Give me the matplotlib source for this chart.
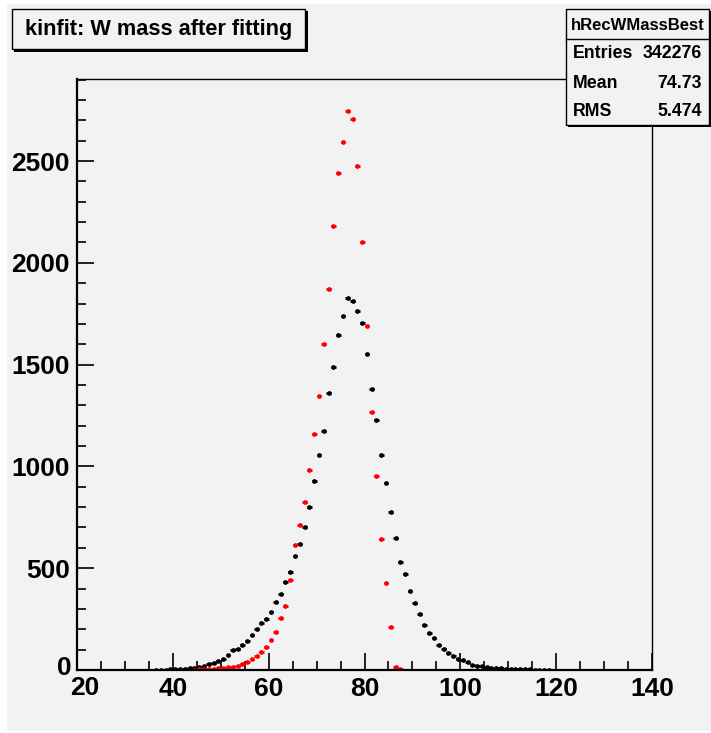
import numpy as np
import matplotlib
matplotlib.use("Agg")
import matplotlib.pyplot as plt
from matplotlib.patches import Rectangle
from matplotlib.ticker import MultipleLocator, FuncFormatter

# histogram contents, 1 GeV bins
black_first_bin = 36
black_counts = [1, 1, 2, 3, 4, 5, 6, 8, 11, 16,
                21, 31, 36, 43, 54, 72, 98, 104, 123, 142,
                173, 199, 230, 250, 283, 335, 374, 430, 480, 559,
                621, 701, 801, 926, 1057, 1176, 1360, 1487, 1647, 1737,
                1827, 1814, 1763, 1706, 1550, 1382, 1227, 1055, 920, 778,
                647, 531, 472, 386, 328, 276, 219, 180, 155, 123,
                105, 85, 70, 52, 48, 39, 26, 21, 20, 15,
                11, 9, 8, 7, 6, 5, 4, 3, 3, 2,
                2, 1, 1]

red_first_bin = 44
red_counts = [2, 3, 4, 5, 6, 8, 11, 13, 15, 20,
              29, 38, 54, 70, 88, 114, 147, 186, 257, 314,
              443, 612, 711, 824, 980, 1159, 1345, 1603, 1871, 2183,
              2440, 2595, 2745, 2706, 2475, 2100, 1691, 1266, 951, 644,
              425, 212, 13, 3]

title = "kinfit: W mass after fitting"
stats_name = "hRecWMassBest"
stats_rows = [("Entries", "342276"), ("Mean", "74.73"), ("RMS", "5.474")]

W, H = 711, 733
bg = "#f2f2f2"


def fx(px):
    return px / W


def fy(py):
    return 1 - py / H


plt.rcParams["font.family"] = ["Liberation Sans", "DejaVu Sans"]
plt.rcParams["font.weight"] = "bold"

fig = plt.figure(figsize=(W / 100, H / 100), dpi=100, facecolor="white")
fig.add_artist(Rectangle((fx(7), fy(731)), fx(711) - fx(7), fy(4) - fy(731),
                         transform=fig.transFigure, facecolor=bg,
                         edgecolor="none", zorder=-10))

ax = fig.add_axes([fx(77), fy(670), fx(652) - fx(77), fy(79) - fy(670)])
ax.set_facecolor(bg)

bx = black_first_bin + 0.5 + np.arange(len(black_counts))
rx = red_first_bin + 0.5 + np.arange(len(red_counts))

ax.errorbar(bx, black_counts, xerr=0.5, fmt="o", color="black", ms=3.4,
            elinewidth=2, capsize=0, mew=0)
ax.errorbar(rx, red_counts, xerr=0.5, fmt="o", color="red", ms=3.4,
            elinewidth=2, capsize=0, mew=0)

ax.set_xlim(20, 140)
ax.set_ylim(0, 2903)
ax.xaxis.set_major_locator(MultipleLocator(20))
ax.xaxis.set_minor_locator(MultipleLocator(5))
ax.yaxis.set_major_locator(MultipleLocator(500))
ax.yaxis.set_minor_locator(MultipleLocator(100))
# the corner labels "20" and "0" are placed by hand below
ax.xaxis.set_major_formatter(FuncFormatter(lambda v, p: "" if v == 20 else f"{v:.0f}"))
ax.yaxis.set_major_formatter(FuncFormatter(lambda v, p: "" if v == 0 else f"{v:.0f}"))
ax.tick_params(which="both", direction="in", top=False, right=False,
               width=1.2, color="black")
ax.tick_params(which="major", length=12.5, labelsize=19, pad=5)
ax.tick_params(which="minor", length=6.5)
ax.spines["left"].set_linewidth(1.6)
ax.spines["bottom"].set_linewidth(1.6)
ax.spines["top"].set_linewidth(1.0)
ax.spines["right"].set_linewidth(1.0)

fig.text(fx(70), fy(688), "20", ha="left", va="center", fontsize=19,
         fontweight="bold")
fig.text(fx(72), fy(668), "0", ha="right", va="center", fontsize=19,
         fontweight="bold")


def pave(x0, y0, x1, y1, shadow):
    # shadow first, then the box itself
    fig.add_artist(Rectangle((fx(x0 + shadow), fy(y1 + shadow)), fx(x1 - x0),
                             fy(y0) - fy(y1), transform=fig.transFigure,
                             facecolor="black", edgecolor="none", zorder=5))
    fig.add_artist(Rectangle((fx(x0), fy(y1)), fx(x1 - x0), fy(y0) - fy(y1),
                             transform=fig.transFigure, facecolor=bg,
                             edgecolor="black", lw=1.0, zorder=6))


# title pave
pave(12, 9, 305, 49, 2.5)
fig.text(fx(159), fy(30), title, ha="center", va="center", fontsize=15.7,
         fontweight="bold", zorder=7)

# stats pave
pave(566, 9, 709, 125, 2)
fig.add_artist(plt.Line2D([fx(566), fx(709)], [fy(39), fy(39)],
                          transform=fig.transFigure, color="black", lw=1.0,
                          zorder=7))
fig.text(fx(637.5), fy(26), stats_name, ha="center", va="center",
         fontsize=12, fontweight="bold", zorder=7)
for i, (name, val) in enumerate(stats_rows):
    yy = [53, 83, 112][i]
    fig.text(fx(573), fy(yy), name, ha="left", va="center", fontsize=12.8,
             fontweight="bold", zorder=7)
    fig.text(fx(702), fy(yy), val, ha="right", va="center", fontsize=12.8,
             fontweight="bold", zorder=7)

fig.savefig("out.png", dpi=100, facecolor="white")
